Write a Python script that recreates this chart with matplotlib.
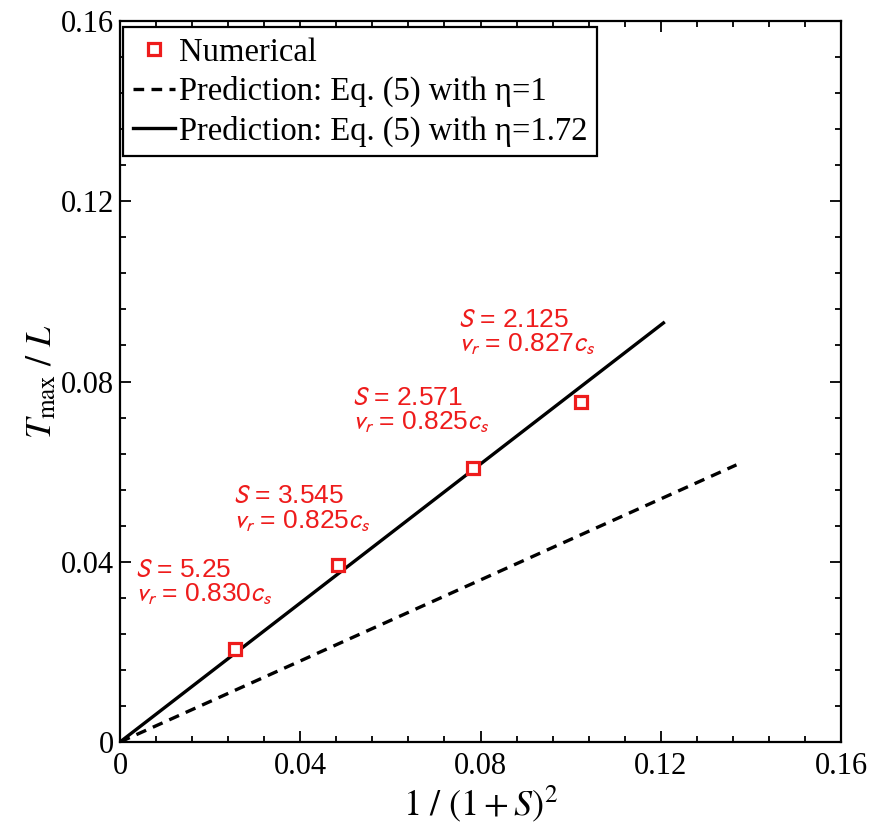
import matplotlib
matplotlib.use("Agg")
import matplotlib.pyplot as plt
from matplotlib.ticker import MultipleLocator, FixedLocator

# ---- data ----
S_values = ["5.25", "3.545", "2.571", "2.125"]
vr_values = ["0.830", "0.825", "0.825", "0.827"]
num_x = [0.0256, 0.0484, 0.0784, 0.1024]
num_y = [0.0206, 0.0393, 0.0608, 0.0755]

pred1_x = [0.0, 0.1368]      # eta = 1 (dashed)
pred1_y = [0.0, 0.0615]
pred172_x = [0.0, 0.1206]    # eta = 1.72 (solid)
pred172_y = [0.0, 0.0930]

# annotation anchors (baseline of first line, left)
label_x = [0.0033, 0.0251, 0.0515, 0.0750]
label_y = [0.0366, 0.0530, 0.0748, 0.0921]

ticks = [0, 0.04, 0.08, 0.12, 0.16]
tick_labels = ["0", "0.04", "0.08", "0.12", "0.16"]

RED = "#ee1c1c"

fig = plt.figure(figsize=(8.76, 8.26), dpi=100)
ax = fig.add_axes([120/876, 1-742/826, (841-120)/876, (742-21)/826])

ax.plot(pred1_x, pred1_y, color="black", lw=2.4, ls=(0, (3.2, 2.2)),
        label=r"Prediction: Eq. (5) with η=1")
ax.plot(pred172_x, pred172_y, color="black", lw=2.4, ls="-",
        label=r"Prediction: Eq. (5) with η=1.72")
ax.plot(num_x, num_y, ls="none", marker="s", ms=8, mew=2.3,
        mec=RED, mfc="white", label="Numerical", zorder=5)

for sx, sy, s, v in zip(label_x, label_y, S_values, vr_values):
    ax.text(sx, sy, r"$S$ = " + s, color=RED, fontsize=19,
            family="Liberation Sans", math_fontfamily="stixsans",
            ha="left", va="baseline")
    ax.text(sx, sy - 0.0055, r"$v_r$ = " + v + r"$c_s$", color=RED, fontsize=19,
            family="Liberation Sans", math_fontfamily="stixsans",
            ha="left", va="baseline")

ax.set_xlim(0, 0.16)
ax.set_ylim(0, 0.16)
ax.xaxis.set_major_locator(FixedLocator(ticks))
ax.yaxis.set_major_locator(FixedLocator(ticks))
ax.set_xticklabels(tick_labels, family="Liberation Serif", fontsize=22)
ax.set_yticklabels(tick_labels, family="Liberation Serif", fontsize=22)
ax.xaxis.set_minor_locator(MultipleLocator(0.008))
ax.yaxis.set_minor_locator(MultipleLocator(0.008))
ax.tick_params(which="both", direction="in", top=True, right=True, width=1.3)
ax.tick_params(which="major", length=8)
ax.tick_params(which="minor", length=4.5)
ax.tick_params(axis="x", pad=7)
ax.tick_params(axis="y", pad=4)
for sp in ax.spines.values():
    sp.set_linewidth(1.6)

ax.set_xlabel(r"$1\ /\ (1+S)^2$", fontsize=26, math_fontfamily="stix", labelpad=2)
ax.set_ylabel(r"$T_{\max}\ /\ L$", fontsize=26, math_fontfamily="stix", labelpad=2)

handles, labels = ax.get_legend_handles_labels()
order = [2, 0, 1]
leg = ax.legend([handles[i] for i in order], [labels[i] for i in order],
                loc="upper left", bbox_to_anchor=(0.004, 0.991), borderaxespad=0,
                prop={"family": "Liberation Serif", "size": 23.5},
                handlelength=1.3, handletextpad=0.12, labelspacing=0.25,
                borderpad=0.3, fancybox=False, framealpha=1, edgecolor="black")
leg.get_frame().set_linewidth(1.6)

fig.savefig("out.png", dpi=100)
